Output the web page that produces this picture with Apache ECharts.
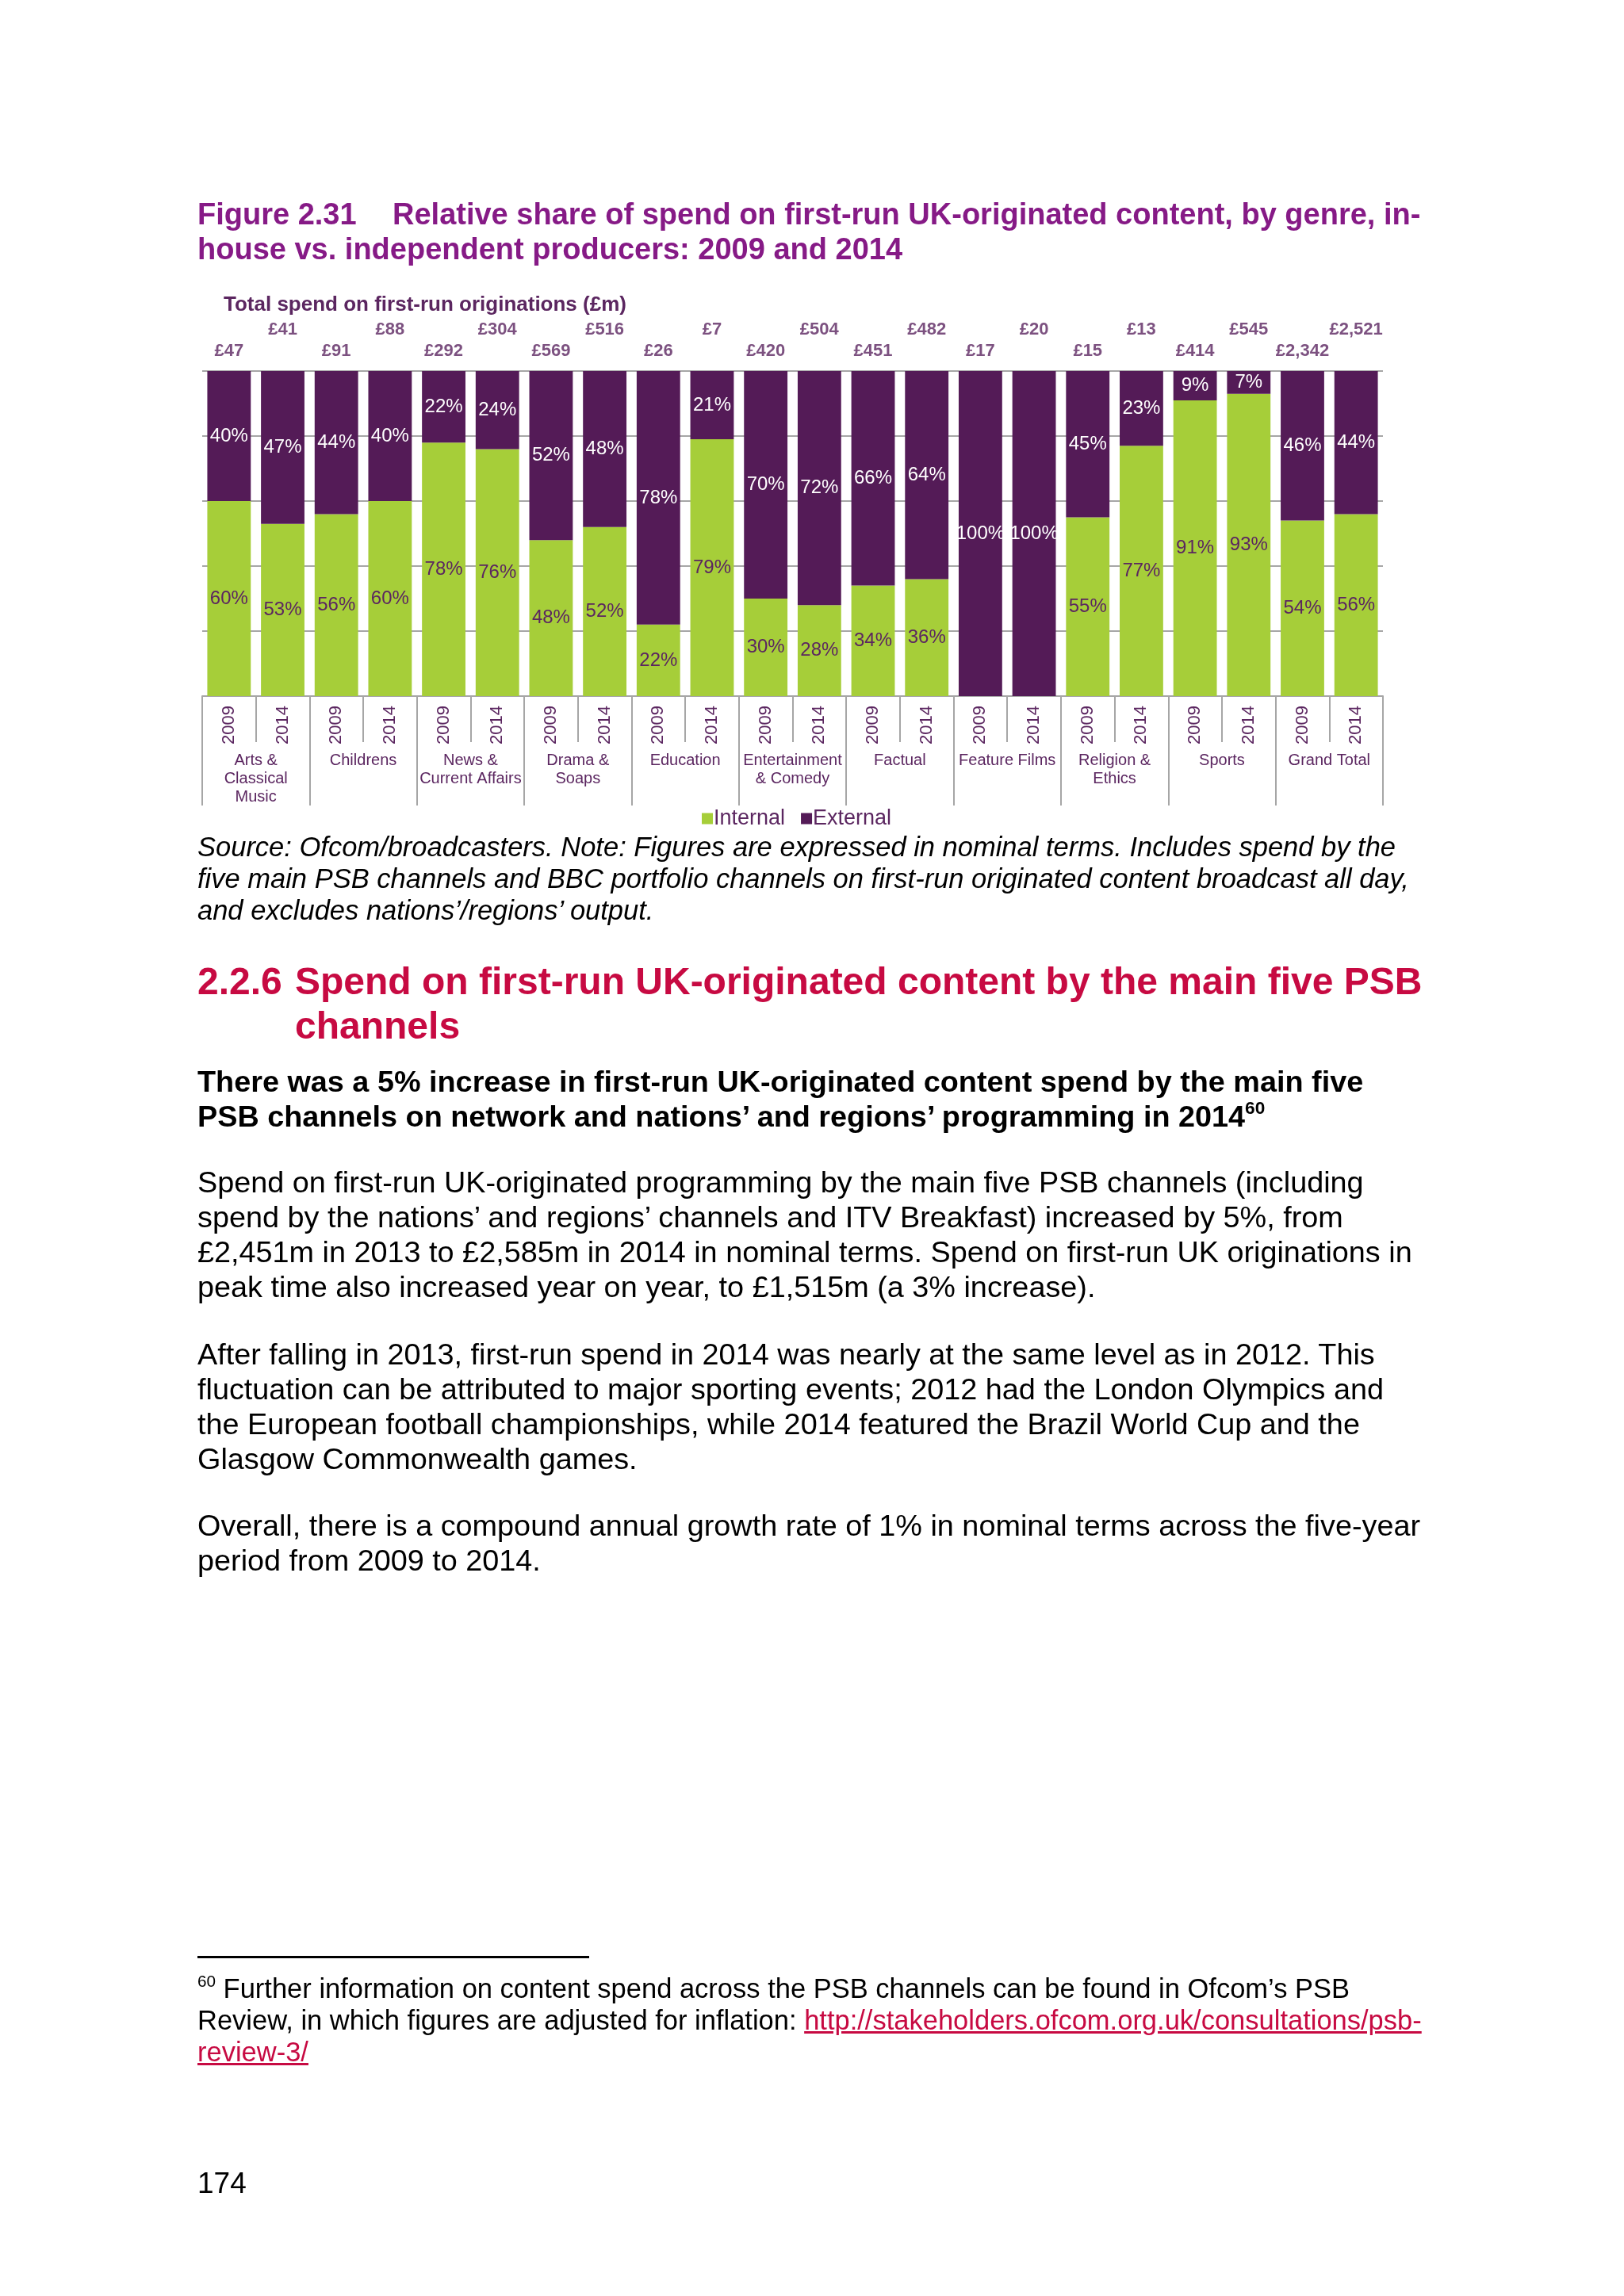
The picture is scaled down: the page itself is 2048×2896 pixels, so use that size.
<!DOCTYPE html>
<html>
<head>
<meta charset="utf-8">
<script src="https://cdn.jsdelivr.net/npm/echarts@6/dist/echarts.min.js"></script>
<style>
  html, body { margin:0; padding:0; background:#ffffff; }
  body { width:2048px; height:2896px; position:relative; overflow:hidden; font-family:"Liberation Sans", Arial, sans-serif; }
  #chart { position:absolute; left:0; top:0; width:2048px; height:2896px; }
  .t { position:absolute; left:249px; white-space:nowrap; color:#000; }
  sup { font-size:0.6em; vertical-align:0.7em; line-height:0; }
</style>
</head>
<body>
<div id="chart"></div>

<div class="t" style="top:248px;font-size:38px;line-height:44px;font-weight:bold;color:#861A86;">
  <span style="display:inline-block;width:246px;">Figure 2.31</span>Relative share of spend on first-run UK-originated content, by genre, in-<br>house vs. independent producers: 2009 and 2014
</div>

<div class="t" style="top:1048px;font-size:34.5px;line-height:40px;font-style:italic;">
  Source: Ofcom/broadcasters. Note: Figures are expressed in nominal terms. Includes spend by the<br>five main PSB channels and BBC portfolio channels on first-run originated content broadcast all day,<br>and excludes nations’/regions’ output.
</div>

<div class="t" style="top:1210px;font-size:48px;line-height:56px;font-weight:bold;color:#C70A42;">
  <span style="display:inline-block;width:123px;">2.2.6</span>Spend on first-run UK-originated content by the main five PSB<br><span style="display:inline-block;width:123px;"></span>channels
</div>

<div class="t" style="top:1342px;font-size:37.8px;line-height:44px;font-weight:bold;">
  There was a 5% increase in first-run UK-originated content spend by the main five<br>PSB channels on network and nations’ and regions’ programming in 2014<sup>60</sup>
</div>

<div class="t" style="top:1469px;font-size:37.8px;line-height:44px;">
  Spend on first-run UK-originated programming by the main five PSB channels (including<br>spend by the nations’ and regions’ channels and ITV Breakfast) increased by 5%, from<br>£2,451m in 2013 to £2,585m in 2014 in nominal terms. Spend on first-run UK originations in<br>peak time also increased year on year, to £1,515m (a 3% increase).
</div>

<div class="t" style="top:1686px;font-size:37.8px;line-height:44px;">
  After falling in 2013, first-run spend in 2014 was nearly at the same level as in 2012. This<br>fluctuation can be attributed to major sporting events; 2012 had the London Olympics and<br>the European football championships, while 2014 featured the Brazil World Cup and the<br>Glasgow Commonwealth games.
</div>

<div class="t" style="top:1902px;font-size:37.8px;line-height:44px;">
  Overall, there is a compound annual growth rate of 1% in nominal terms across the five-year<br>period from 2009 to 2014.
</div>

<div style="position:absolute;left:249px;top:2467px;width:494px;height:3px;background:#000;"></div>

<div class="t" style="top:2488px;font-size:34.5px;line-height:40px;">
  <sup>60</sup> Further information on content spend across the PSB channels can be found in Ofcom’s PSB<br>Review, in which figures are adjusted for inflation: <span style="color:#C70A42;text-decoration:underline;">http://stakeholders.ofcom.org.uk/consultations/psb-</span><br><span style="color:#C70A42;text-decoration:underline;">review-3/</span>
</div>

<div class="t" style="top:2732px;font-size:37px;line-height:44px;">174</div>

<script>
// ---- data ----
const genres = ['Arts &\nClassical\nMusic', 'Childrens', 'News &\nCurrent Affairs', 'Drama &\nSoaps', 'Education', 'Entertainment\n& Comedy', 'Factual', 'Feature Films', 'Religion &\nEthics', 'Sports', 'Grand Total'];
const years = ['2009', '2014'];
const internal2009 = [60, 56, 78, 48, 22, 30, 34, 0, 55, 91, 54];
const internal2014 = [53, 60, 76, 52, 79, 28, 36, 0, 77, 93, 56];
const external2009 = [40, 44, 22, 52, 78, 70, 66, 100, 45, 9, 46];
const external2014 = [47, 40, 24, 48, 21, 72, 64, 100, 23, 7, 44];
const total2009 = [47, 91, 292, 569, 26, 420, 451, 17, 15, 414, 2342];
const total2014 = [41, 88, 304, 516, 7, 504, 482, 20, 13, 545, 2521];

// ---- build interleaved arrays ----
const yearLabels = [], internalVals = [], externalVals = [], totals = [], totalYear = [];
genres.forEach((g, i) => {
  yearLabels.push(years[0], years[1]);
  internalVals.push(internal2009[i], internal2014[i]);
  externalVals.push(external2009[i], external2014[i]);
  totals.push(total2009[i], total2014[i]);
  totalYear.push(0, 1);
});

const GREEN = '#A6CE39';
const PURPLE = '#541B57';
const TXT = '#5B2660';
const GRID = '#A6A6A6';
const FONT = '"Liberation Sans", Arial, sans-serif';

const chart = echarts.init(document.getElementById('chart'), null, { renderer: 'canvas' });

const pct = p => (p.value ? p.value + '%' : '');
const money = v => '£' + v.toLocaleString('en-GB');

chart.setOption({
  animation: false,
  backgroundColor: 'transparent',
  textStyle: { fontFamily: FONT },
  title: {
    text: 'Total spend on first-run originations (£m)',
    left: 277, top: 367,
    textStyle: { fontSize: 26, fontWeight: 'bold', color: TXT, fontFamily: FONT }
  },
  legend: {
    data: ['Internal', 'External'],
    left: 880, top: 1014,
    itemWidth: 14, itemHeight: 14, itemGap: 20,
    icon: 'rect',
    textStyle: { fontSize: 27, color: TXT, fontFamily: FONT, padding: [0, 0, 0, -4] }
  },
  grid: { left: 255, top: 468, width: 1489, height: 410, containLabel: false },
  xAxis: [
    {
      type: 'category', data: yearLabels, position: 'bottom',
      axisLine: { show: true, lineStyle: { color: GRID, width: 2 } },
      axisTick: { show: true, interval: 0, alignWithLabel: false, length: 58, lineStyle: { color: GRID, width: 2 } },
      axisLabel: { interval: 0, rotate: 90, margin: 12, fontSize: 22, color: TXT, fontFamily: FONT }
    },
    {
      type: 'category', data: genres, position: 'bottom', offset: 0,
      axisLine: { show: false },
      axisTick: { show: true, interval: 0, length: 138, lineStyle: { color: GRID, width: 2 } },
      axisLabel: { interval: 0, margin: 70, fontSize: 20, lineHeight: 23, color: TXT, fontFamily: FONT, verticalAlign: 'top' }
    }
  ],
  yAxis: {
    type: 'value', min: 0, max: 100, interval: 20,
    axisLine: { show: false }, axisTick: { show: false }, axisLabel: { show: false },
    splitLine: { show: true, lineStyle: { color: GRID, width: 2 } }
  },
  series: [
    {
      name: 'Internal', type: 'bar', stack: 'share', xAxisIndex: 0,
      data: internalVals, barCategoryGap: '19%',
      itemStyle: { color: GREEN },
      label: { show: true, position: 'inside', formatter: pct, fontSize: 24, color: TXT, fontFamily: FONT }
    },
    {
      name: 'External', type: 'bar', stack: 'share', xAxisIndex: 0,
      data: externalVals, barCategoryGap: '19%',
      itemStyle: { color: PURPLE },
      label: { show: true, position: 'inside', formatter: pct, fontSize: 24, color: '#FFFFFF', fontFamily: FONT }
    },
    {
      name: 'Totals', type: 'scatter', xAxisIndex: 0, symbolSize: 0, clip: false, silent: true,
      data: totals.map((v, i) => ({
        value: 100,
        label: { distance: totalYear[i] === 0 ? 14 : 41 }
      })),
      label: {
        show: true, position: 'top',
        formatter: p => money(totals[p.dataIndex]),
        fontSize: 22, fontWeight: 'bold', color: TXT, fontFamily: FONT
      },
      z: 10
    }
  ]
});
</script>
</body>
</html>
